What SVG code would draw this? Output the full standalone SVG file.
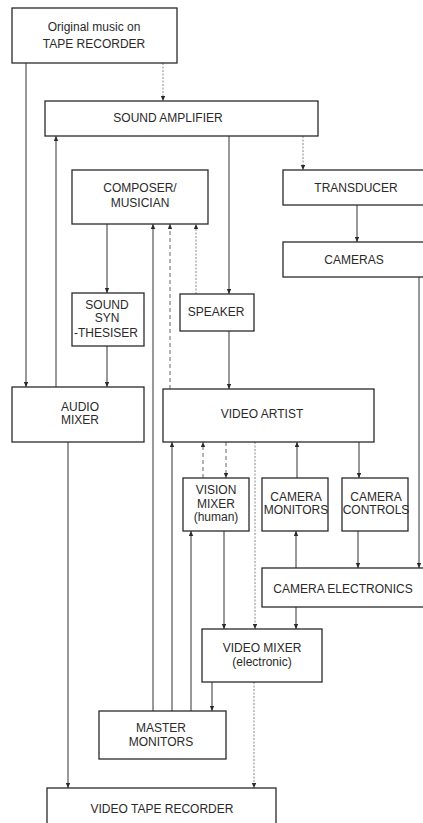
<svg xmlns="http://www.w3.org/2000/svg" width="423" height="823" viewBox="0 0 423 823">
<style>
.box{fill:#fff;stroke:#2a2a2a;stroke-width:1.3}
text{font-family:"Liberation Sans",Arial,sans-serif;font-size:12px;fill:#2a2a2a;text-anchor:middle}
.c{fill:none;stroke:#333;stroke-width:1}
.lt{stroke:#888;stroke-dasharray:2 1.5}
.ds{stroke:#666;stroke-dasharray:4 3}
</style>
<defs>
<marker id="ah" markerUnits="userSpaceOnUse" markerWidth="6" markerHeight="6" refX="5" refY="2.2" orient="auto">
<path d="M0,0 L5,2.2 L0,4.4 z" fill="#2a2a2a"/>
</marker>
</defs>
<rect width="423" height="823" fill="#fff"/>
<g id="connectors">
<line class="c lt" x1="163" y1="63" x2="163" y2="101" marker-end="url(#ah)"/>
<line class="c" x1="26" y1="63" x2="26" y2="387" marker-end="url(#ah)"/>
<line class="c" x1="56" y1="387" x2="56" y2="136" marker-end="url(#ah)"/>
<line class="c lt" x1="303" y1="136" x2="303" y2="170" marker-end="url(#ah)"/>
<line class="c" x1="229" y1="136" x2="229" y2="294" marker-end="url(#ah)"/>
<line class="c" x1="357" y1="205" x2="357" y2="242" marker-end="url(#ah)"/>
<line class="c" x1="107" y1="224" x2="107" y2="293" marker-end="url(#ah)"/>
<line class="c" x1="107" y1="346" x2="107" y2="387" marker-end="url(#ah)"/>
<line class="c lt" x1="196" y1="294" x2="196" y2="224" marker-end="url(#ah)"/>
<line class="c" x1="153" y1="711" x2="153" y2="224" marker-end="url(#ah)"/>
<line class="c ds" x1="170" y1="389" x2="170" y2="224" marker-end="url(#ah)"/>
<line class="c" x1="229" y1="331" x2="229" y2="389" marker-end="url(#ah)"/>
<line class="c" x1="68" y1="442" x2="68" y2="788" marker-end="url(#ah)"/>
<line class="c" x1="172" y1="711" x2="172" y2="442" marker-end="url(#ah)"/>
<line class="c" x1="191" y1="711" x2="191" y2="531" marker-end="url(#ah)"/>
<line class="c ds" x1="203" y1="478" x2="203" y2="442" marker-end="url(#ah)"/>
<line class="c ds" x1="226" y1="442" x2="226" y2="478" marker-end="url(#ah)"/>
<line class="c lt" x1="255" y1="442" x2="255" y2="629" marker-end="url(#ah)"/>
<line class="c" x1="297" y1="478" x2="297" y2="442" marker-end="url(#ah)"/>
<line class="c" x1="359" y1="442" x2="359" y2="478" marker-end="url(#ah)"/>
<line class="c" x1="296" y1="568" x2="296" y2="531" marker-end="url(#ah)"/>
<line class="c" x1="296" y1="607" x2="296" y2="629" marker-end="url(#ah)"/>
<line class="c" x1="358" y1="531" x2="358" y2="568" marker-end="url(#ah)"/>
<line class="c" x1="419" y1="277" x2="419" y2="568" marker-end="url(#ah)"/>
<line class="c" x1="224" y1="531" x2="224" y2="629" marker-end="url(#ah)"/>
<line class="c" x1="212" y1="682" x2="212" y2="711" marker-end="url(#ah)"/>
<line class="c lt" x1="254" y1="682" x2="254" y2="788" marker-end="url(#ah)"/>
</g>
<g id="original-music">
<rect class="box" x="12" y="8" width="165" height="55"/>
<text x="94" y="31">Original music on</text>
<text x="94" y="48">TAPE RECORDER</text>
</g>
<g id="sound-amplifier">
<rect class="box" x="45" y="101" width="273" height="35"/>
<text x="168" y="122">SOUND AMPLIFIER</text>
</g>
<g id="transducer">
<rect class="box" x="283" y="170" width="150" height="35"/>
<text x="356" y="192">TRANSDUCER</text>
</g>
<g id="composer">
<rect class="box" x="72" y="170" width="136" height="54"/>
<text x="140" y="192">COMPOSER/</text>
<text x="140" y="207">MUSICIAN</text>
</g>
<g id="cameras">
<rect class="box" x="283" y="242" width="150" height="35"/>
<text x="354" y="264">CAMERAS</text>
</g>
<g id="speaker">
<rect class="box" x="180" y="294" width="74" height="37"/>
<text x="216" y="316">SPEAKER</text>
</g>
<g id="sound-synthesiser">
<rect class="box" x="72" y="293" width="72" height="53"/>
<text x="107" y="309">SOUND</text>
<text x="107" y="322">SYN</text>
<text x="106" y="337">-THESISER</text>
</g>
<g id="audio-mixer">
<rect class="box" x="12" y="387" width="132" height="55"/>
<text x="80" y="411">AUDIO</text>
<text x="80" y="424">MIXER</text>
</g>
<g id="video-artist">
<rect class="box" x="163" y="389" width="211" height="53"/>
<text x="262" y="418">VIDEO ARTIST</text>
</g>
<g id="vision-mixer">
<rect class="box" x="183" y="478" width="66" height="53"/>
<text x="216" y="494">VISION</text>
<text x="216" y="508">MIXER</text>
<text x="216" y="521">(human)</text>
</g>
<g id="camera-monitors">
<rect class="box" x="262" y="478" width="66" height="53"/>
<text x="296" y="501">CAMERA</text>
<text x="296" y="514">MONITORS</text>
</g>
<g id="camera-controls">
<rect class="box" x="342" y="478" width="66" height="53"/>
<text x="376" y="501">CAMERA</text>
<text x="376" y="514">CONTROLS</text>
</g>
<g id="camera-electronics">
<rect class="box" x="262" y="568" width="171" height="39"/>
<text x="343" y="593">CAMERA ELECTRONICS</text>
</g>
<g id="video-mixer">
<rect class="box" x="202" y="629" width="120" height="53"/>
<text x="262" y="652">VIDEO MIXER</text>
<text x="262" y="666">(electronic)</text>
</g>
<g id="master-monitors">
<rect class="box" x="99" y="711" width="127" height="48"/>
<text x="161" y="732">MASTER</text>
<text x="161" y="746">MONITORS</text>
</g>
<g id="video-tape-recorder">
<rect class="box" x="47" y="788" width="229" height="45"/>
<text x="162" y="813">VIDEO TAPE RECORDER</text>
</g>
</svg>
